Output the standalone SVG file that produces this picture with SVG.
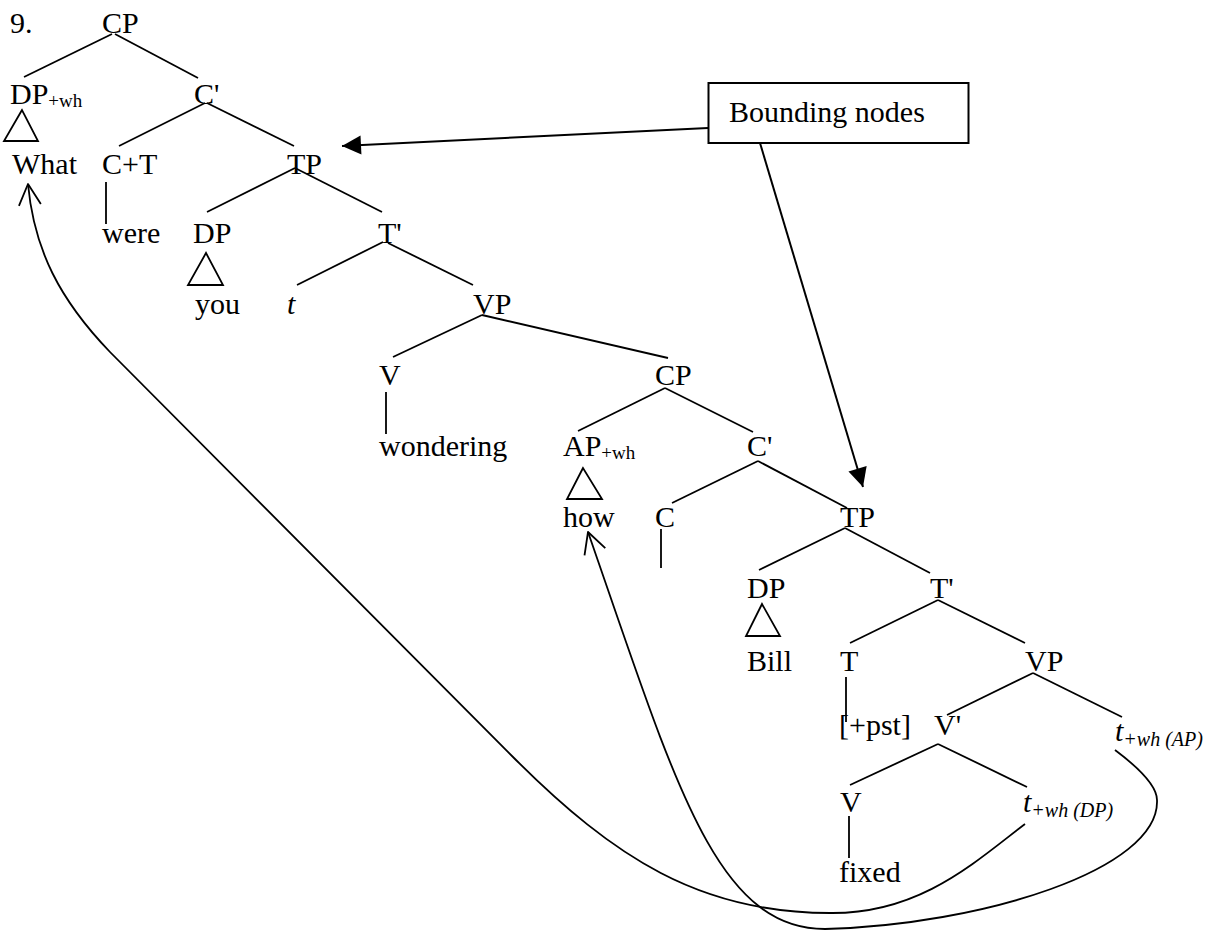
<svg xmlns="http://www.w3.org/2000/svg" width="1213" height="930" viewBox="0 0 1213 930" font-family="'Liberation Serif', 'Times New Roman', 'DejaVu Serif', serif">
  <style>
    text { font-family: "Liberation Serif", "Times New Roman", "DejaVu Serif", serif; font-size: 30px; fill: #000; }
    .sub { font-size: 19px; }
    .it { font-style: italic; }
    .isub { font-size: 20px; font-style: italic; }
    .edge { stroke: #000; stroke-width: 1.8; fill: none; stroke-linecap: butt; }
    .roof { stroke: #000; stroke-width: 1.8; fill: none; stroke-linejoin: miter; }
    .move { stroke: #000; stroke-width: 1.8; fill: none; }
    .call { stroke: #000; stroke-width: 2; fill: none; }
    .box { stroke: #000; stroke-width: 2; fill: #fff; }
  </style>
  <defs>
    <marker id="solid" markerUnits="userSpaceOnUse" viewBox="-1 -11 22 22" markerWidth="22" markerHeight="22" refX="19" refY="0" orient="auto">
      <path d="M0,-9.5 L19,0 L0,9.5 Z" fill="#000"/>
    </marker>
    <marker id="open" markerUnits="userSpaceOnUse" viewBox="-25 -14 28 28" markerWidth="28" markerHeight="28" refX="0" refY="0" orient="auto-start-reverse">
      <path d="M-21,-11 L0,0 L-21,11" fill="none" stroke="#000" stroke-width="1.8" stroke-linejoin="round"/>
    </marker>
  </defs>
  <rect width="1213" height="930" fill="#fff"/>

  <text id="example-number" x="10" y="33">9.</text>

  <!-- tree branches -->
  <g id="edges" class="edge">
    <line x1="112" y1="34" x2="24" y2="77"/>
    <line x1="115" y1="34" x2="198" y2="78"/>
    <line x1="205" y1="103" x2="119" y2="146"/>
    <line x1="207" y1="103" x2="294" y2="146"/>
    <line x1="106" y1="182" x2="106" y2="224"/>
    <line x1="295" y1="168" x2="207" y2="212"/>
    <line x1="295" y1="168" x2="382" y2="212"/>
    <line x1="383" y1="242" x2="297" y2="285"/>
    <line x1="388" y1="243" x2="473" y2="285"/>
    <line x1="482" y1="315" x2="393" y2="357"/>
    <line x1="482" y1="315" x2="668" y2="358"/>
    <line x1="386" y1="392" x2="386" y2="434"/>
    <line x1="665" y1="388" x2="578" y2="431"/>
    <line x1="665" y1="388" x2="753" y2="432"/>
    <line x1="758" y1="461" x2="672" y2="503"/>
    <line x1="758" y1="461" x2="847" y2="508"/>
    <line x1="661" y1="529" x2="661" y2="568"/>
    <line x1="845" y1="528" x2="759" y2="570"/>
    <line x1="845" y1="528" x2="930" y2="573"/>
    <line x1="938" y1="600" x2="850" y2="643"/>
    <line x1="938" y1="600" x2="1025" y2="643"/>
    <line x1="846" y1="677" x2="846" y2="722"/>
    <line x1="1033" y1="673" x2="947" y2="715"/>
    <line x1="1033" y1="673" x2="1122" y2="717"/>
    <line x1="938" y1="744" x2="850" y2="785"/>
    <line x1="938" y1="744" x2="1027" y2="787"/>
    <line x1="849" y1="816" x2="849" y2="858"/>
  </g>

  <!-- tree nodes -->
  <g id="cp-root"><text x="102" y="33">CP</text></g>
  <g id="dp-wh"><text x="10" y="104">DP<tspan class="sub" dy="3">+wh</tspan></text></g>
  <g id="c-bar"><text x="194" y="104">C'</text></g>
  <g id="what"><polygon class="roof" points="22,110 4,141 38,141"/><text x="12" y="174">What</text></g>
  <g id="c-t"><text x="102" y="174">C+T</text></g>
  <g id="tp"><text x="287" y="174">TP</text></g>
  <g id="were"><text x="102" y="243">were</text></g>
  <g id="dp-you"><text x="193" y="243">DP</text></g>
  <g id="t-bar"><text x="378" y="243">T'</text></g>
  <g id="you"><polygon class="roof" points="206,253 188,285 223,285"/><text x="195" y="314">you</text></g>
  <g id="t-trace"><text class="it" x="287" y="314">t</text></g>
  <g id="vp"><text x="473" y="314">VP</text></g>
  <g id="v-wonder"><text x="379" y="385">V</text></g>
  <g id="cp-embedded"><text x="655" y="385">CP</text></g>
  <g id="wondering"><text x="379" y="456">wondering</text></g>
  <g id="ap-wh"><text x="563" y="456">AP<tspan class="sub" dy="3">+wh</tspan></text></g>
  <g id="c-bar-embedded"><text x="747" y="456">C'</text></g>
  <g id="how"><polygon class="roof" points="583,468 567,499 602,499"/><text x="563" y="527">how</text></g>
  <g id="c-embedded"><text x="655" y="527">C</text></g>
  <g id="tp-embedded"><text x="840" y="527">TP</text></g>
  <g id="dp-bill"><text x="747" y="598">DP</text></g>
  <g id="t-bar-embedded"><text x="930" y="598">T'</text></g>
  <g id="bill"><polygon class="roof" points="762,604 746,636 780,636"/><text x="747" y="671">Bill</text></g>
  <g id="t-embedded"><text x="840" y="671">T</text></g>
  <g id="vp-embedded"><text x="1025" y="671">VP</text></g>
  <g id="pst"><text x="839" y="735">[+pst]</text></g>
  <g id="v-bar"><text x="934" y="735">V'</text></g>
  <g id="trace-ap"><text class="it" x="1115" y="741">t<tspan class="isub" dy="5">+wh (AP)</tspan></text></g>
  <g id="v-fix"><text x="840" y="812">V</text></g>
  <g id="trace-dp"><text class="it" x="1023" y="812">t<tspan class="isub" dy="5">+wh (DP)</tspan></text></g>
  <g id="fixed"><text x="839" y="882">fixed</text></g>

  <!-- wh-movement paths -->
  <g id="movement" class="move">
    <path marker-start="url(#open)" d="M28,184 C34,250 60,300 110,352 L514,758 C614,858 700,913 830,913 C920,914 975,862 1025,824"/>
    <path marker-start="url(#open)" d="M588,532 C675,782 715,929 825,929 C980,925 1160,870 1157,800 C1157,785 1135,765 1115,750"/>
  </g>

  <!-- bounding-node callout -->
  <g id="bounding-nodes">
    <rect class="box" x="708.5" y="83" width="260" height="60"/>
    <text x="729" y="122">Bounding nodes</text>
  </g>
  <g id="callout-arrows" class="call">
    <path marker-end="url(#solid)" d="M708,128 L342,146"/>
    <path marker-end="url(#solid)" d="M760,143 L863,487"/>
  </g>
</svg>
